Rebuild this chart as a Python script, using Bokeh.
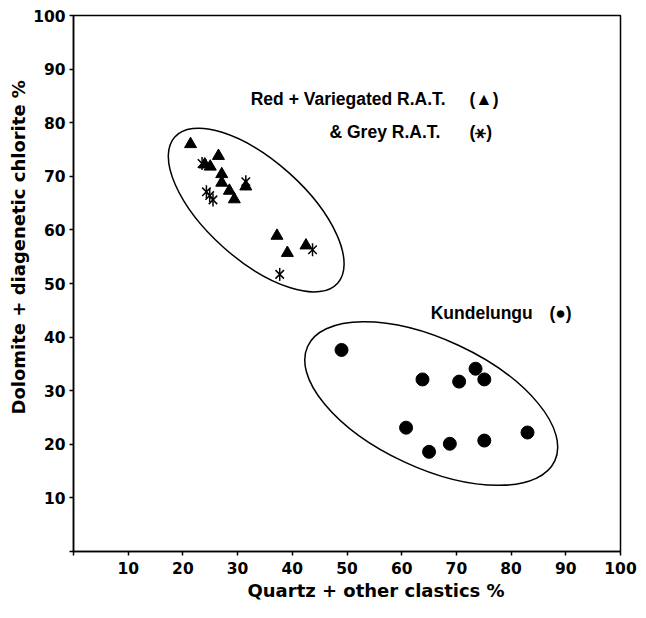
import math
from bokeh.plotting import figure
from bokeh.models import Range1d, FixedTicker, Label, Title
from bokeh.embed import file_html
from bokeh.resources import INLINE

# ---- data ----
# Red + Variegated R.A.T. (triangles)
tri_x = [21.4, 24.0, 25.0, 26.5, 27.1, 27.1, 28.5, 29.4, 31.5, 37.2, 39.1, 42.5]
tri_y = [76.0, 72.2, 71.8, 73.8, 70.4, 68.8, 67.3, 65.7, 68.1, 58.9, 55.7, 57.1]
# Grey R.A.T. (asterisks)
ast_x = [23.5, 24.3, 24.9, 25.5, 31.5, 37.7, 43.7]
ast_y = [72.4, 67.1, 66.4, 65.6, 69.0, 51.7, 56.3]
# Kundelungu (dots)
dot_x = [49.0, 63.8, 70.5, 73.5, 75.1, 60.8, 65.0, 68.8, 75.1, 83.0]
dot_y = [37.6, 32.1, 31.7, 34.1, 32.1, 23.1, 18.6, 20.1, 20.7, 22.2]

# grouping ellipses (center x, center y, width, height, angle deg)
ell_x = [33.4, 65.4]
ell_y = [63.7, 27.6]
ell_w = [40.0, 49.8]
ell_h = [18.5, 24.0]
ell_a = [-41.9, -24.9]

ticks = [0, 10, 20, 30, 40, 50, 60, 70, 80, 90, 100]
tick_labels = {0: ""}
for t in ticks[1:]:
    tick_labels[t] = str(t)

x_title = "Quartz + other clastics %"
y_title = "Dolomite + diagenetic chlorite %"

AXIS_FONT = "DejaVu Sans"
NOTE_FONT = "Liberation Sans"

p = figure(width=638, height=602, x_range=Range1d(0, 100), y_range=Range1d(0, 100),
           output_backend="svg", toolbar_location=None,
           min_border_left=73, min_border_top=15, min_border_right=18, min_border_bottom=51)

p.background_fill_color = "white"
p.border_fill_color = "white"
p.outline_line_color = "black"
p.outline_line_width = 1.5
p.xgrid.visible = False
p.ygrid.visible = False

for ax in (p.xaxis[0], p.yaxis[0]):
    ax.ticker = FixedTicker(ticks=ticks)
    ax.major_label_overrides = tick_labels
    ax.minor_tick_line_color = None
    ax.major_tick_out = 4
    ax.major_tick_in = 0
    ax.axis_line_width = 1.5
    ax.axis_line_color = "black"
    ax.major_tick_line_width = 1.5
    ax.major_tick_line_color = "black"
    ax.major_label_text_font = AXIS_FONT
    ax.major_label_text_font_style = "bold"
    ax.major_label_text_font_size = "15.5px"
    ax.major_label_text_color = "black"
p.xaxis[0].major_label_standoff = 6
p.yaxis[0].major_label_standoff = 4

# axis titles (side titles, offset along the axis like the reference)
p.add_layout(Title(text=x_title, align="left", offset=174, standoff=2,
                   text_font=AXIS_FONT, text_font_style="bold", text_font_size="18px",
                   text_color="black"), "below")
p.add_layout(Title(text=y_title, align="left", offset=137, standoff=4,
                   text_font=AXIS_FONT, text_font_style="bold", text_font_size="18px",
                   text_color="black"), "left")

# ellipses
p.ellipse(x=ell_x, y=ell_y, width=ell_w, height=ell_h,
          angle=[math.radians(a) for a in ell_a],
          fill_color=None, line_color="black", line_width=1.5)

# points
p.scatter(tri_x, tri_y, marker="triangle", size=12, fill_color="black", line_color="black")
p.scatter(ast_x, ast_y, marker="x", size=12, line_color="black", line_width=1.5)
p.scatter(ast_x, ast_y, marker="dash", size=13, angle=math.pi / 2, line_color="black", line_width=1.5)
p.scatter(dot_x, dot_y, marker="circle", size=13, fill_color="black", line_color="black")

# group annotations
def note(x, y, txt, size="17.5px"):
    p.add_layout(Label(x=x, y=y, text=txt, text_font=NOTE_FONT, text_font_style="bold",
                       text_font_size=size, text_align="left", text_baseline="alphabetic",
                       text_color="black"))

note(32.4, 84.5, "Red + Variegated R.A.T.")
note(72.4, 84.5, "(\u25B2)")
note(46.8, 78.2, "& Grey R.A.T.")
note(72.4, 78.2, "(\u26B9)")
note(65.3, 44.5, "Kundelungu")
note(87.0, 44.5, "(\u25CF)")

open("out.html", "w").write(file_html(p, INLINE))
